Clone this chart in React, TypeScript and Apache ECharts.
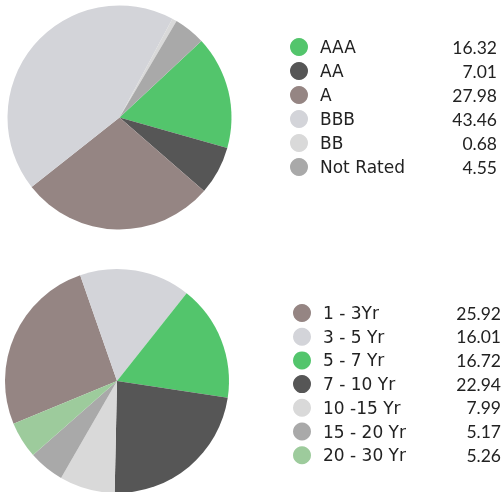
import React, { useEffect, useRef } from "react";
import * as echarts from "echarts";

const ratingNames = ["AAA", "AA", "A", "BBB", "BB", "Not Rated"];
const ratingValues = [16.32, 7.01, 27.98, 43.46, 0.68, 4.55];
const ratingColors = ["#53c56c", "#565656", "#958583", "#d3d4d9", "#d9d9d9", "#a9a9a9"];

const maturityNames = ["1 - 3Yr", "3 - 5 Yr", "5 - 7 Yr", "7 - 10 Yr", "10 -15 Yr", "15 - 20 Yr", "20 - 30 Yr"];
const maturityValues = [25.92, 16.01, 16.72, 22.94, 7.99, 5.17, 5.26];
const maturityColors = ["#958583", "#d3d4d9", "#53c56c", "#565656", "#d9d9d9", "#a9a9a9", "#9dcb9c"];

const NAME_FONT = "DejaVu Sans";
const VALUE_FONT = "Lato";

export default function App() {
  const ref = useRef<HTMLDivElement>(null);
  useEffect(() => {
    if (!ref.current) return;
    const chart = echarts.init(ref.current, undefined, { renderer: "svg" });
    const valueOf: Record<string, number> = {};
    ratingNames.forEach((n, i) => (valueOf["r:" + n] = ratingValues[i]));
    maturityNames.forEach((n, i) => (valueOf["m:" + n] = maturityValues[i]));
    const fmt = (prefix: string) => (name: string) =>
      `{n|${name}}{v|${valueOf[prefix + name].toFixed(2)}}`;
    const richFor = (pad: number, nw: number) => ({
      n: { fontFamily: NAME_FONT, fontSize: 17, color: "#222", width: nw, padding: [0, 0, 0, pad] },
      v: { fontFamily: VALUE_FONT, fontSize: 17.5, color: "#222", width: 50, align: "right" },
    });
    chart.setOption({
      animation: false,
      legend: [
        {
          data: ratingNames,
          orient: "vertical",
          left: 285,
          top: 33,
          icon: "circle",
          itemWidth: 18,
          itemHeight: 18,
          itemGap: 6,
          selectedMode: false,
          formatter: fmt("r:"),
          textStyle: { rich: richFor(7, 127) },
        },
        {
          data: maturityNames,
          orient: "vertical",
          left: 288,
          top: 299,
          icon: "circle",
          itemWidth: 18,
          itemHeight: 18,
          itemGap: 5.7,
          selectedMode: false,
          formatter: fmt("m:"),
          textStyle: { rich: richFor(7, 128) },
        },
      ],
      series: [
        {
          type: "pie",
          center: [119.5, 117.5],
          radius: 112,
          startAngle: 43,
          clockwise: true,
          label: { show: false },
          labelLine: { show: false },
          emphasis: { disabled: true },
          data: ratingNames.map((n, i) => ({ name: n, value: ratingValues[i], itemStyle: { color: ratingColors[i] } })),
        },
        {
          type: "pie",
          center: [117, 381],
          radius: 112,
          startAngle: 202.5,
          clockwise: true,
          label: { show: false },
          labelLine: { show: false },
          emphasis: { disabled: true },
          data: maturityNames.map((n, i) => ({ name: n, value: maturityValues[i], itemStyle: { color: maturityColors[i] } })),
        },
      ],
    });
    return () => chart.dispose();
  }, []);
  return <div ref={ref} style={{ position: "fixed", left: 0, top: 0, width: 502, height: 492 }} />;
}
